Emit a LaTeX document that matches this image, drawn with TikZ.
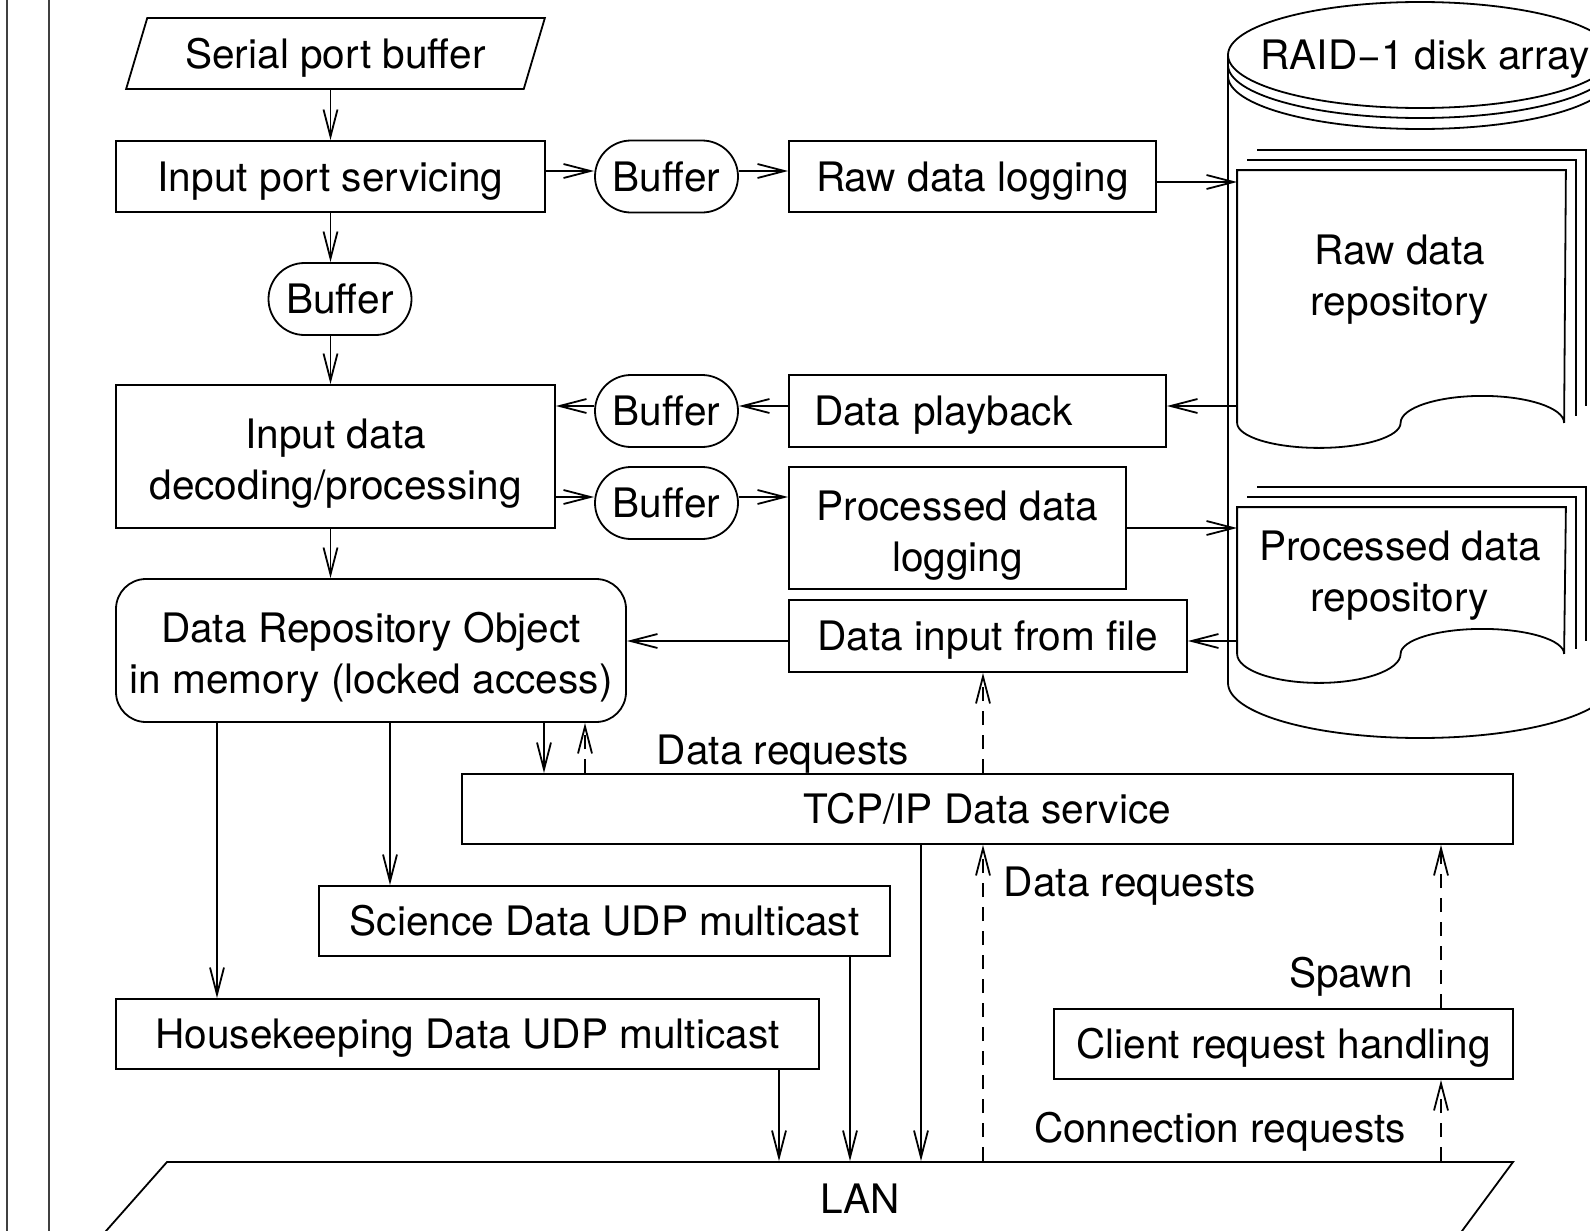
\documentclass[tikz,border=0pt]{standalone}
\usepackage{fontspec}
\setmainfont{TeX Gyre Heros}
\usetikzlibrary{arrows.meta,shapes.geometric,shapes.misc}

\tikzset{
  oneline/.style={text height=14.6pt, text depth=0pt},
  twoline/.style={align=center, text height=40pt, text depth=0pt},
  proc/.style={draw, rectangle, inner sep=0pt, align=center},
  proc2/.style={proc, twoline, text height=43pt},
  buf/.style={draw, rounded rectangle, minimum width=71.5pt, minimum height=36pt, inner sep=0pt, oneline},
  flow/.style={-{Straight Barb[length=13.5pt, width=7pt]}},
  req/.style={flow, dash pattern=on 7pt off 5pt},
}

\begin{document}
\begin{tikzpicture}[x=0.5pt, y=-0.5pt, line width=0.9pt, font=\fontsize{20.3}{25.5}\selectfont]
    \useasboundingbox (0,0) rectangle (1590,1231);
    \clip (0,0) rectangle (1590,1231);

    % margin rules
    \draw[line width=0.7pt, black!75] (7,0) -- (7,1231) (49,0) -- (49,1231);

    % RAID cylinder
    \draw (1420,55) ellipse [x radius=96pt, y radius=26.5pt];
    \foreach \d in {10,21}
        \draw (1228,{55+\d}) arc[start angle=180, end angle=360, x radius=96pt, y radius=26.5pt];
    \draw (1228,55) -- (1228,683) arc[start angle=180, end angle=360, x radius=96pt, y radius=27.5pt] -- (1612,55);
    \node[oneline] (raid) at (1425,55) {RAID−1 disk array};

    % repositories (document stacks)
    \node[minimum width=163.5pt, minimum height=125.5pt, inner sep=0pt] (rawdoc) at (1401.5,296.5) {};
    \draw (rawdoc.north west) -- (rawdoc.south west)
        arc[start angle=180, end angle=360, x radius=40.875pt, y radius=12.5pt]
        arc[start angle=180, end angle=0, x radius=40.875pt, y radius=13.5pt]
        -- (rawdoc.north east) -- cycle;
    \foreach \s/\e in {5pt/3.5pt, 10pt/8.5pt}
        \draw ([shift={(\s,\s)}]rawdoc.north west) -- ([shift={(\s,\s)}]rawdoc.north east) -- ([shift={(\s,\e)}]rawdoc.south east);
    \node[twoline] (rawtext) at (1400,275) {Raw data\\repository};

    \node[minimum width=163.5pt, minimum height=72.5pt, inner sep=0pt] (procdoc) at (1401.5,580.5) {};
    \draw (procdoc.north west) -- (procdoc.south west)
        arc[start angle=180, end angle=360, x radius=40.875pt, y radius=14.5pt]
        arc[start angle=180, end angle=0, x radius=40.875pt, y radius=12.5pt]
        -- (procdoc.north east) -- cycle;
    \foreach \s/\e in {5pt/2.5pt, 10pt/6.5pt}
        \draw ([shift={(\s,\s)}]procdoc.north west) -- ([shift={(\s,\s)}]procdoc.north east) -- ([shift={(\s,\e)}]procdoc.south east);
    \node[twoline] (proctext) at (1400,571) {Processed data\\repository};

    % processing chain
    \node[draw, trapezium, trapezium left angle=60, trapezium right angle=120, trapezium stretches=true,
          minimum width=209.5pt, minimum height=35.5pt, inner sep=0pt, oneline] (serial) at (335.5,53.5) {Serial port buffer};
    \node[proc, oneline, minimum width=214.5pt, minimum height=35.5pt] (inport) at (330.5,176.5) {Input port servicing};
    \node[buf] (bufin) at (666.5,176.5) {Buffer};
    \node[proc, oneline, minimum width=183.5pt, minimum height=35.5pt] (rawlog) at (972.5,176.5) {Raw data logging};
    \node[buf] (bufdec) at (340,299) {Buffer};
    \node[proc2, minimum width=219.5pt, minimum height=71.5pt] (decode) at (335.5,456.5) {Input data\\decoding/processing};
    \node[buf] (bufplay) at (666.5,411) {Buffer};
    \node[proc, oneline, minimum width=188.5pt, minimum height=36pt, text width=163.5pt, inner xsep=12.5pt, align=left] (playback) at (977.5,411) {Data playback};
    \node[buf] (bufproc) at (666.5,503) {Buffer};
    \node[proc2, minimum width=168.5pt, minimum height=61pt] (proclog) at (957.5,528) {Processed data\\logging};
    \node[proc2, rounded corners=15pt, minimum width=255pt, minimum height=71.5pt] (repo) at (371,650.5) {Data Repository Object\\in memory (locked access)};
    \node[proc, oneline, minimum width=199pt, minimum height=36pt] (fileinput) at (988,636) {Data input from file};
    \node[proc, oneline, minimum width=525.5pt, minimum height=35pt] (tcp) at (987.5,809) {TCP/IP Data service};
    \node[proc, oneline, minimum width=285.5pt, minimum height=35pt] (science) at (604.5,921) {Science Data UDP multicast};
    \node[proc, oneline, minimum width=351.5pt, minimum height=35pt] (hk) at (467.5,1034) {Housekeeping Data UDP multicast};
    \node[proc, oneline, minimum width=229.5pt, minimum height=35pt] (client) at (1283.5,1044) {Client request handling};

    % LAN segment
    \node[oneline, minimum width=400pt, minimum height=37pt, inner sep=0pt] (lan) at (860,1199) {LAN};
    \draw (45,1300) -- (167,1162) -- (1513,1162) -- (1411,1300);

    % connector labels
    \node[oneline] (dreqtop) at (783,750) {Data requests};
    \node[oneline] (dreqlan) at (1130,882) {Data requests};
    \node[oneline] (spawn) at (1351,973) {Spawn};
    \node[oneline] (connreq) at (1220,1128) {Connection requests};

    % data flow
    \draw[flow] (inport.north |- serial.south) -- (inport.north);
    \draw[flow] (inport.south) -- (inport.south |- bufdec.north);
    \draw[flow] (inport.south |- bufdec.south) -- (inport.south |- decode.north);
    \draw[flow] (inport.south |- decode.south) -- (inport.south |- repo.north);
    \draw[flow] ([yshift=2.75pt]inport.east) -- ([yshift=2.75pt]inport.east -| bufin.west);
    \draw[flow] ([yshift=2.75pt]bufin.east) -- ([yshift=2.75pt]bufin.east -| rawlog.west);
    \draw[flow] ([yshift=-2.75pt]rawlog.east) -- ([yshift=-2.75pt]rawlog.east -| rawdoc.west);
    \draw[flow] ([yshift=2.5pt]playback.east -| rawdoc.west) -- ([yshift=2.5pt]playback.east);
    \draw[flow] ([yshift=2.5pt]playback.west) -- ([yshift=2.5pt]playback.west -| bufplay.east);
    \draw[flow] ([yshift=2.5pt]bufplay.west) -- ([yshift=2.5pt]bufplay.west -| decode.east);
    \draw[flow] ([yshift=3pt]bufproc.west -| decode.east) -- ([yshift=3pt]bufproc.west);
    \draw[flow] ([yshift=3pt]bufproc.east) -- ([yshift=3pt]bufproc.east -| proclog.west);
    \draw[flow] (proclog.east) -- (proclog.east -| procdoc.west);
    \draw[flow] ([yshift=-2.5pt]fileinput.east -| procdoc.west) -- ([yshift=-2.5pt]fileinput.east);
    \draw[flow] ([yshift=-2.5pt]fileinput.west) -- ([yshift=-2.5pt]fileinput.west -| repo.east);

    % distribution
    \draw[flow] ([xshift=-77pt]repo.south) -- ([xshift=-77pt]repo.south |- hk.north);
    \draw[flow] ([xshift=9.5pt]repo.south) -- ([xshift=9.5pt]repo.south |- science.north);
    \draw[flow] ([xshift=86.5pt]repo.south) -- ([xshift=86.5pt]repo.south |- tcp.north);
    \draw[req] ([xshift=107pt]repo.south |- tcp.north) -- ([xshift=107pt]repo.south);
    \draw[req] ([xshift=-2.5pt]fileinput.south |- tcp.north) -- ([xshift=-2.5pt]fileinput.south);
    \draw[flow] ([xshift=155.75pt]hk.south) -- ([xshift=155.75pt]hk.south |- lan.north);
    \draw[flow] ([xshift=122.75pt]science.south) -- ([xshift=122.75pt]science.south |- lan.north);
    \draw[flow] ([xshift=-33.25pt]tcp.south) -- ([xshift=-33.25pt]tcp.south |- lan.north);
    \draw[req] ([xshift=-2.25pt]tcp.south |- lan.north) -- ([xshift=-2.25pt]tcp.south);
    \draw[req] ([xshift=78.75pt]client.south |- lan.north) -- ([xshift=78.75pt]client.south);
    \draw[req] ([xshift=78.75pt]client.north) -- ([xshift=78.75pt]client.north |- tcp.south);
\end{tikzpicture}
\end{document}
